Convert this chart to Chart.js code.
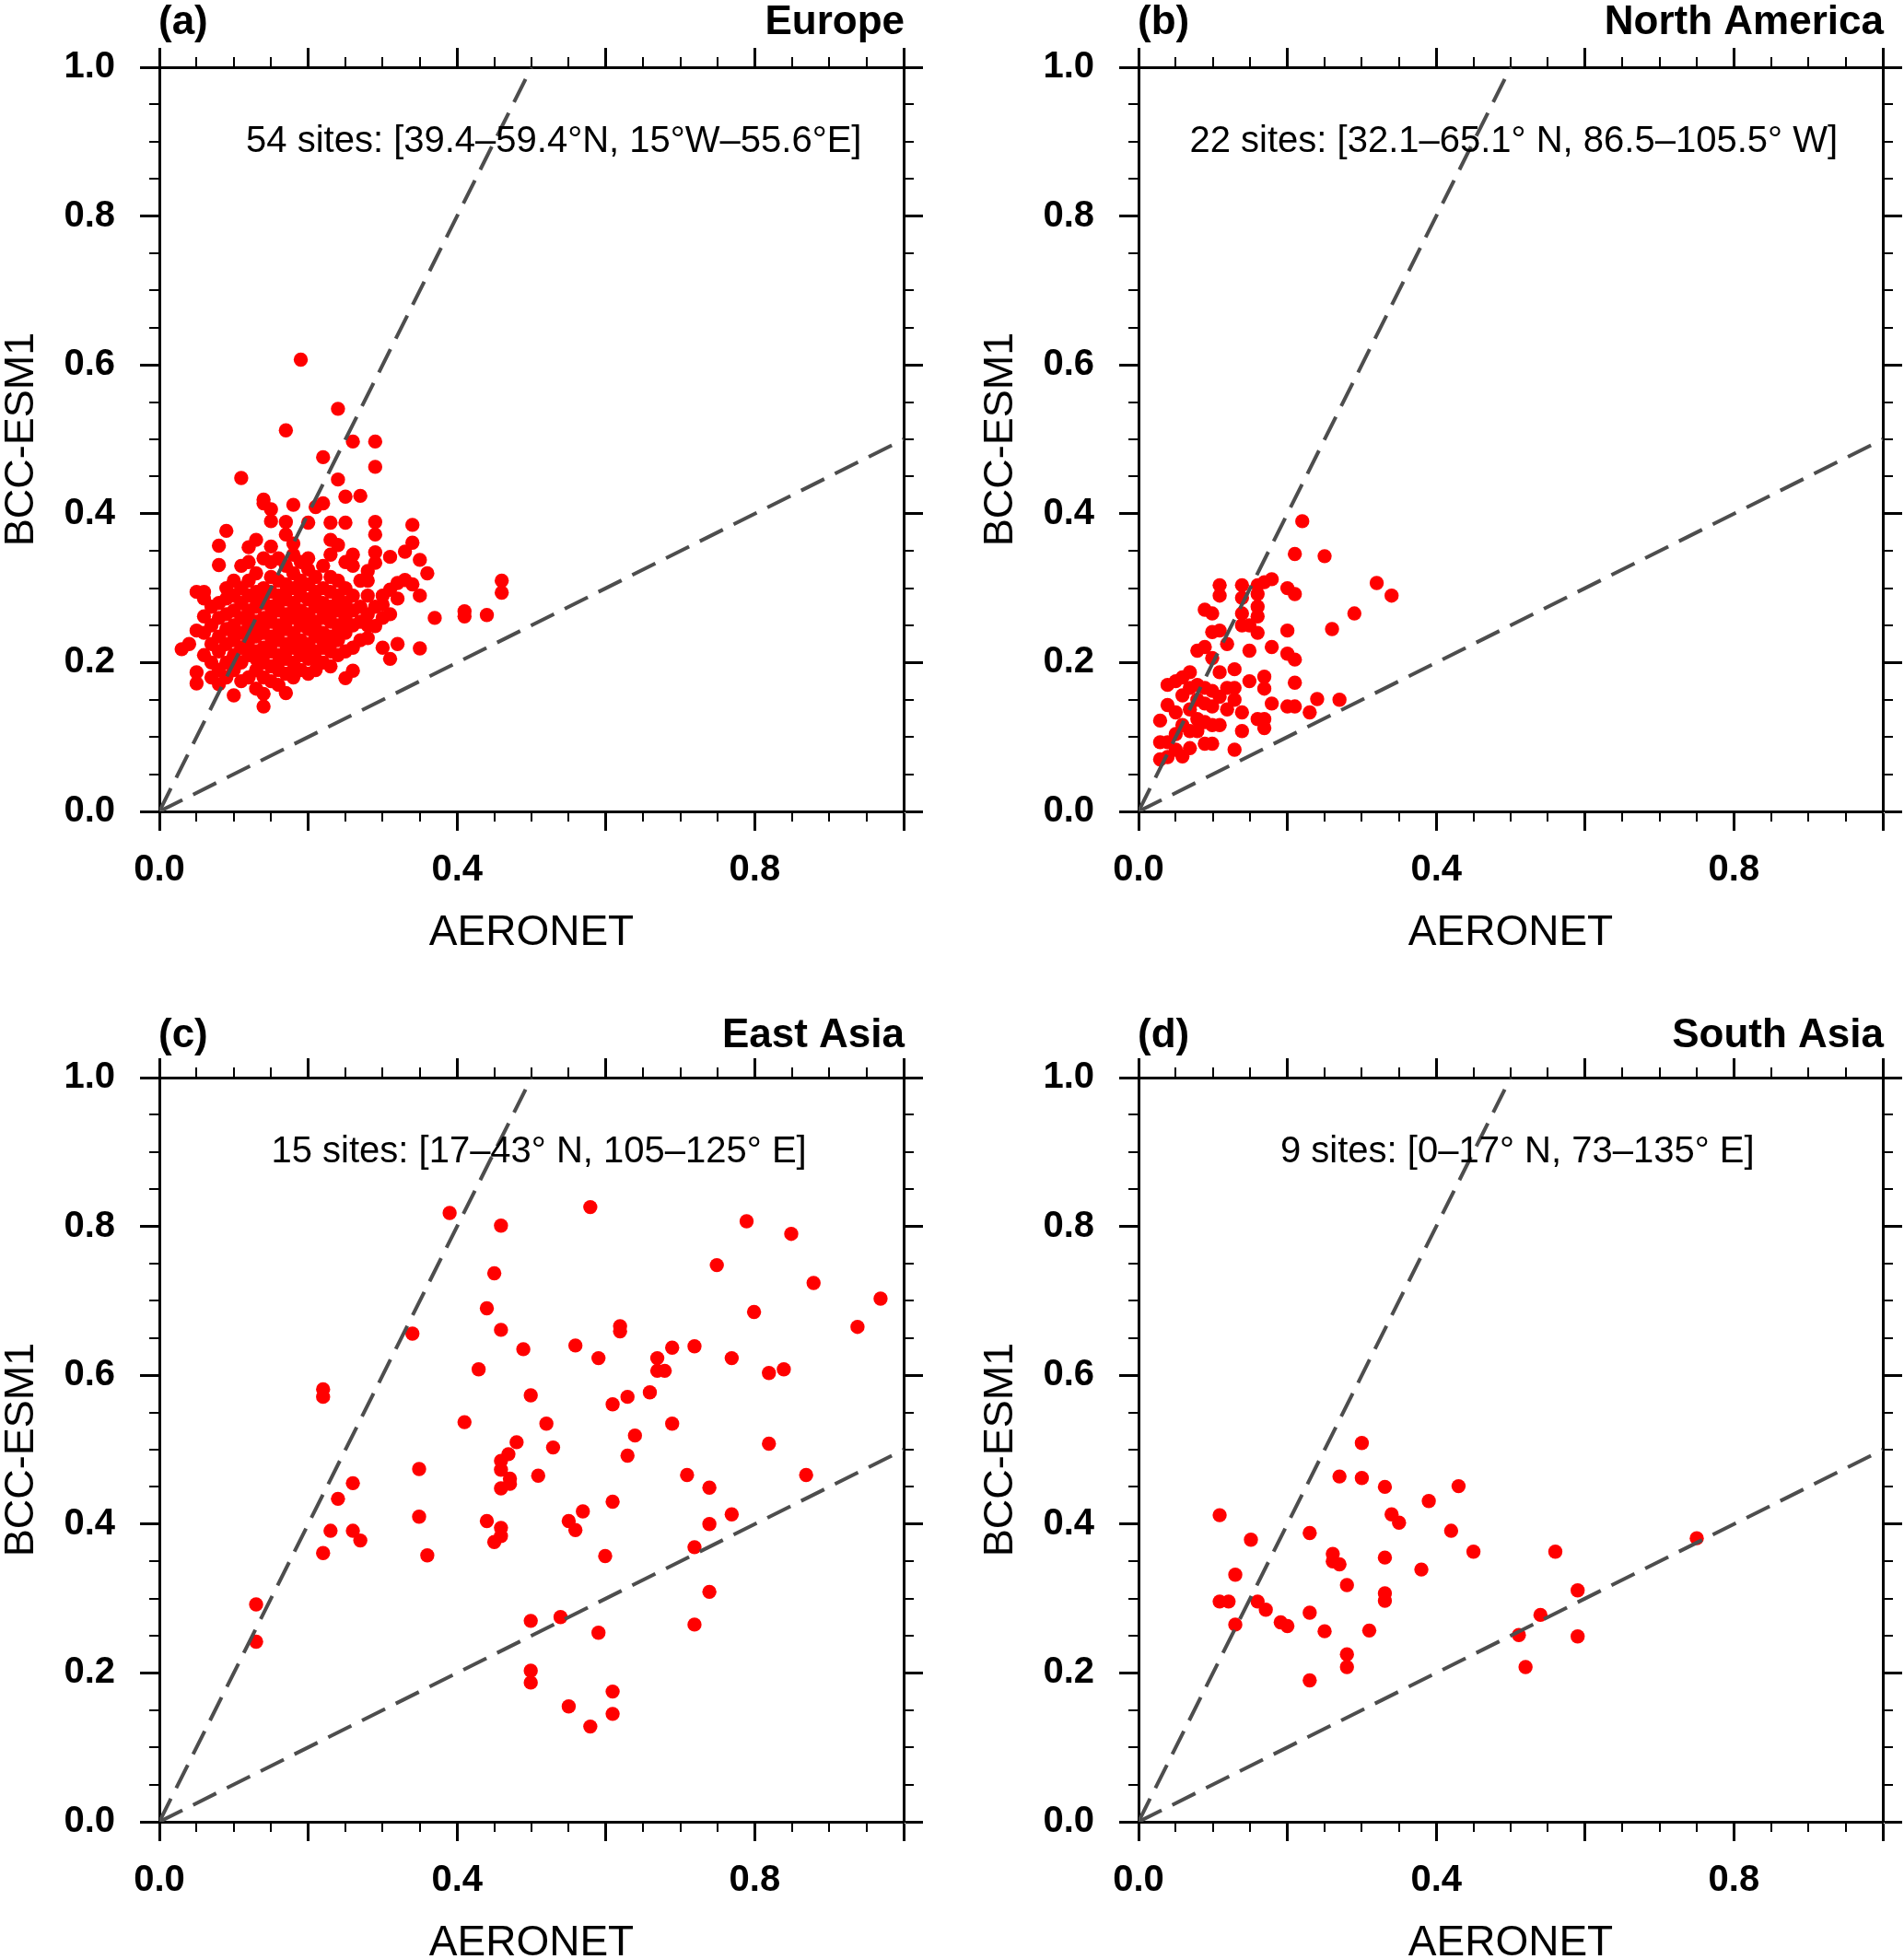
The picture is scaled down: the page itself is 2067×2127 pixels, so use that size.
<!DOCTYPE html>
<html>
<head>
<meta charset="utf-8">
<script src="https://cdn.jsdelivr.net/npm/chart.js@4.4.1/dist/chart.umd.min.js"></script>
<style>
  html, body { margin: 0; padding: 0; background: #fff; }
  body { width: 2067px; height: 2127px; position: relative; overflow: hidden; }
  canvas { position: absolute; }
</style>
</head>
<body>
<canvas id="pa" width="1007" height="1066" style="left:0px;top:0px;width:1007px;height:1066px"></canvas>
<canvas id="pb" width="1004" height="1066" style="left:1063px;top:0px;width:1004px;height:1066px"></canvas>
<canvas id="pc" width="1007" height="1031" style="left:0px;top:1096px;width:1007px;height:1031px"></canvas>
<canvas id="pd" width="1004" height="1031" style="left:1063px;top:1096px;width:1004px;height:1031px"></canvas>
<script>
// AERONET (x) vs BCC-ESM1 (y)
const europePts = [
 [0.03,0.218],[0.04,0.225],
 [0.05,0.172],[0.05,0.187],[0.05,0.243],[0.05,0.295],
 [0.06,0.210],[0.06,0.240],[0.06,0.262],[0.06,0.286],[0.06,0.295],
 [0.07,0.180],[0.07,0.200],[0.07,0.225],[0.07,0.250],[0.07,0.275],
 [0.08,0.171],[0.08,0.190],[0.08,0.215],[0.08,0.235],[0.08,0.260],[0.08,0.280],[0.08,0.331],[0.08,0.357],
 [0.09,0.180],[0.09,0.200],[0.09,0.225],[0.09,0.245],[0.09,0.265],[0.09,0.286],[0.09,0.300],[0.09,0.377],
 [0.10,0.156],[0.10,0.190],[0.10,0.210],[0.10,0.230],[0.10,0.240],[0.10,0.250],[0.10,0.270],[0.10,0.290],[0.10,0.310],
 [0.11,0.175],[0.11,0.200],[0.11,0.220],[0.11,0.240],[0.11,0.260],[0.11,0.280],[0.11,0.300],[0.11,0.330],[0.11,0.448],
 [0.12,0.180],[0.12,0.210],[0.12,0.220],[0.12,0.230],[0.12,0.250],[0.12,0.260],[0.12,0.270],[0.12,0.290],[0.12,0.310],[0.12,0.335],[0.12,0.355],
 [0.13,0.165],[0.13,0.190],[0.13,0.205],[0.13,0.215],[0.13,0.235],[0.13,0.245],[0.13,0.255],[0.13,0.275],[0.13,0.285],[0.13,0.295],[0.13,0.320],[0.13,0.365],
 [0.14,0.141],[0.14,0.158],[0.14,0.180],[0.14,0.200],[0.14,0.210],[0.14,0.220],[0.14,0.240],[0.14,0.250],[0.14,0.260],[0.14,0.280],[0.14,0.290],[0.14,0.300],[0.14,0.340],[0.14,0.414],[0.14,0.419],
 [0.15,0.175],[0.15,0.195],[0.15,0.215],[0.15,0.225],[0.15,0.235],[0.15,0.255],[0.15,0.265],[0.15,0.275],[0.15,0.295],[0.15,0.315],[0.15,0.335],[0.15,0.356],[0.15,0.390],[0.15,0.406],
 [0.16,0.170],[0.16,0.190],[0.16,0.200],[0.16,0.210],[0.16,0.230],[0.16,0.240],[0.16,0.250],[0.16,0.270],[0.16,0.280],[0.16,0.290],[0.16,0.310],[0.16,0.340],
 [0.17,0.159],[0.17,0.185],[0.17,0.205],[0.17,0.215],[0.17,0.225],[0.17,0.245],[0.17,0.255],[0.17,0.265],[0.17,0.285],[0.17,0.295],[0.17,0.305],[0.17,0.330],[0.17,0.372],[0.17,0.389],[0.17,0.512],
 [0.18,0.180],[0.18,0.190],[0.18,0.200],[0.18,0.220],[0.18,0.230],[0.18,0.240],[0.18,0.260],[0.18,0.270],[0.18,0.280],[0.18,0.300],[0.18,0.320],[0.18,0.345],[0.18,0.360],[0.18,0.412],
 [0.19,0.190],[0.19,0.210],[0.19,0.220],[0.19,0.230],[0.19,0.250],[0.19,0.260],[0.19,0.270],[0.19,0.290],[0.19,0.300],[0.19,0.310],[0.19,0.335],[0.19,0.607],
 [0.20,0.185],[0.20,0.205],[0.20,0.215],[0.20,0.225],[0.20,0.245],[0.20,0.255],[0.20,0.265],[0.20,0.285],[0.20,0.305],[0.20,0.325],[0.20,0.340],[0.20,0.388],
 [0.21,0.190],[0.21,0.205],[0.21,0.215],[0.21,0.235],[0.21,0.245],[0.21,0.255],[0.21,0.275],[0.21,0.285],[0.21,0.295],[0.21,0.315],[0.21,0.409],
 [0.22,0.200],[0.22,0.220],[0.22,0.230],[0.22,0.240],[0.22,0.260],[0.22,0.270],[0.22,0.280],[0.22,0.300],[0.22,0.330],[0.22,0.414],[0.22,0.476],
 [0.23,0.195],[0.23,0.215],[0.23,0.225],[0.23,0.235],[0.23,0.255],[0.23,0.265],[0.23,0.275],[0.23,0.295],[0.23,0.315],[0.23,0.345],[0.23,0.365],[0.23,0.388],
 [0.24,0.210],[0.24,0.230],[0.24,0.240],[0.24,0.250],[0.24,0.270],[0.24,0.280],[0.24,0.290],[0.24,0.310],[0.24,0.358],[0.24,0.446],[0.24,0.541],
 [0.25,0.179],[0.25,0.215],[0.25,0.240],[0.25,0.250],[0.25,0.260],[0.25,0.270],[0.25,0.280],[0.25,0.300],[0.25,0.335],[0.25,0.388],[0.25,0.423],
 [0.26,0.189],[0.26,0.220],[0.26,0.250],[0.26,0.270],[0.26,0.290],[0.26,0.330],[0.26,0.345],[0.26,0.497],
 [0.27,0.230],[0.27,0.255],[0.27,0.275],[0.27,0.310],[0.27,0.424],
 [0.28,0.233],[0.28,0.250],[0.28,0.265],[0.28,0.290],[0.28,0.310],[0.28,0.323],
 [0.29,0.249],[0.29,0.275],[0.29,0.334],[0.29,0.348],[0.29,0.372],[0.29,0.389],[0.29,0.463],[0.29,0.497],
 [0.30,0.220],[0.30,0.260],[0.30,0.278],[0.30,0.290],
 [0.31,0.205],[0.31,0.265],[0.31,0.298],[0.31,0.342],
 [0.32,0.225],[0.32,0.286],[0.32,0.307],
 [0.33,0.311],[0.33,0.349],
 [0.34,0.305],[0.34,0.361],[0.34,0.385],
 [0.35,0.219],[0.35,0.290],[0.35,0.338],
 [0.36,0.320],[0.37,0.260],
 [0.41,0.262],[0.41,0.269],[0.44,0.264],[0.46,0.294],[0.46,0.310]
];
const namericaPts = [
 [0.029,0.122],[0.029,0.093],[0.029,0.070],
 [0.039,0.170],[0.039,0.143],[0.039,0.093],[0.039,0.073],
 [0.050,0.175],[0.050,0.133],[0.050,0.104],[0.050,0.083],
 [0.059,0.180],[0.059,0.156],[0.059,0.116],[0.059,0.074],
 [0.069,0.187],[0.069,0.166],[0.069,0.137],[0.069,0.108],[0.069,0.085],
 [0.079,0.216],[0.079,0.170],[0.079,0.150],[0.079,0.124],[0.079,0.108],
 [0.089,0.271],[0.089,0.221],[0.089,0.166],[0.089,0.145],[0.089,0.120],[0.089,0.091],
 [0.099,0.266],[0.099,0.241],[0.099,0.206],[0.099,0.162],[0.099,0.141],[0.099,0.116],[0.099,0.091],
 [0.109,0.304],[0.109,0.290],[0.109,0.243],[0.109,0.187],[0.109,0.154],[0.109,0.116],
 [0.119,0.225],[0.119,0.166],[0.119,0.137],
 [0.129,0.191],[0.129,0.166],[0.129,0.150],[0.129,0.083],
 [0.139,0.304],[0.139,0.287],[0.139,0.266],[0.139,0.250],[0.139,0.133],[0.139,0.108],
 [0.149,0.250],[0.149,0.216],[0.149,0.175],
 [0.160,0.304],[0.160,0.292],[0.160,0.275],[0.160,0.262],[0.160,0.240],[0.160,0.124],
 [0.169,0.308],[0.169,0.181],[0.169,0.165],[0.169,0.124],[0.169,0.112],
 [0.179,0.312],[0.179,0.221],[0.179,0.145],
 [0.200,0.300],[0.200,0.243],[0.200,0.212],[0.200,0.141],
 [0.210,0.346],[0.210,0.292],[0.210,0.204],[0.210,0.173],[0.210,0.141],
 [0.220,0.390],[0.230,0.133],[0.240,0.151],[0.250,0.343],[0.260,0.245],
 [0.270,0.150],[0.290,0.266],[0.320,0.307],[0.340,0.290]
];
const eastasiaPts = [
 [0.130,0.292],[0.130,0.242],[0.220,0.581],[0.220,0.571],[0.220,0.361],[0.230,0.391],
 [0.240,0.434],[0.260,0.455],[0.260,0.391],[0.270,0.378],[0.340,0.656],[0.349,0.474],
 [0.349,0.410],[0.360,0.358],[0.390,0.818],[0.410,0.537],[0.429,0.608],[0.440,0.690],
 [0.440,0.404],[0.450,0.737],[0.450,0.376],[0.459,0.801],[0.459,0.661],[0.459,0.485],
 [0.459,0.473],[0.459,0.448],[0.459,0.395],[0.459,0.384],[0.469,0.494],[0.471,0.461],
 [0.471,0.454],[0.480,0.510],[0.489,0.635],[0.499,0.573],[0.499,0.270],[0.499,0.203],
 [0.499,0.187],[0.509,0.465],[0.520,0.535],[0.529,0.503],[0.539,0.275],[0.550,0.404],
 [0.550,0.155],[0.559,0.640],[0.559,0.392],[0.569,0.417],[0.579,0.826],[0.579,0.128],
 [0.590,0.623],[0.590,0.254],[0.599,0.357],[0.609,0.561],[0.609,0.430],[0.609,0.175],
 [0.609,0.145],[0.619,0.666],[0.619,0.659],[0.629,0.571],[0.629,0.492],[0.639,0.519],
 [0.659,0.577],[0.669,0.623],[0.669,0.606],[0.679,0.606],[0.689,0.637],[0.689,0.535],
 [0.709,0.466],[0.719,0.639],[0.719,0.369],[0.719,0.265],[0.739,0.449],[0.739,0.400],
 [0.739,0.309],[0.749,0.748],[0.769,0.623],[0.769,0.413],[0.789,0.807],[0.799,0.685],
 [0.819,0.603],[0.819,0.508],[0.839,0.608],[0.849,0.790],[0.869,0.466],[0.879,0.724],
 [0.938,0.665],[0.969,0.703]
];
const southasiaPts = [
 [0.109,0.412],[0.109,0.296],[0.121,0.296],[0.130,0.332],[0.130,0.265],[0.151,0.379],
 [0.160,0.296],[0.171,0.285],[0.191,0.268],[0.200,0.263],[0.230,0.388],[0.230,0.281],
 [0.230,0.190],[0.250,0.256],[0.261,0.360],[0.261,0.350],[0.270,0.464],[0.270,0.346],
 [0.280,0.318],[0.280,0.225],[0.280,0.208],[0.300,0.509],[0.300,0.462],[0.310,0.257],
 [0.331,0.450],[0.331,0.355],[0.331,0.307],[0.331,0.297],[0.340,0.413],[0.350,0.402],
 [0.380,0.339],[0.390,0.431],[0.420,0.391],[0.430,0.451],[0.450,0.363],[0.511,0.251],
 [0.520,0.208],[0.540,0.278],[0.560,0.363],[0.590,0.311],[0.590,0.249],[0.750,0.381]
];
// dashed reference lines y = 2x and y = 0.5x
const lineTwice = [[0, 0], [0.5, 1.0]];
const lineHalf = [[0, 0], [1.0, 0.5]];

const panelTags = ['(a)', '(b)', '(c)', '(d)'];
const regionNames = ['Europe', 'North America', 'East Asia', 'South Asia'];
const siteNotes = [
  '54 sites: [39.4\u201359.4\u00b0N, 15\u00b0W\u201355.6\u00b0E]',
  '22 sites: [32.1\u201365.1\u00b0 N, 86.5\u2013105.5\u00b0 W]',
  '15 sites: [17\u201343\u00b0 N, 105\u2013125\u00b0 E]',
  '9 sites: [0\u201317\u00b0 N, 73\u2013135\u00b0 E]'
];
const noteCenterX = [0.530, 0.504, 0.510, 0.509];

const FONT = "'Liberation Sans', Arial, Helvetica, sans-serif";
const minorStep = 0.05;
const minorLen = 11;

const toXY = arr => arr.map(p => ({ x: p[0], y: p[1] }));

const panelDeco = {
  id: 'panelDeco',
  afterDraw(chart, args, o) {
    const { ctx, chartArea: ca, scales } = chart;
    ctx.save();
    // minor ticks on all four sides
    ctx.strokeStyle = '#000';
    ctx.lineWidth = 2;
    ctx.beginPath();
    for (let i = 1; i < 20; i++) {
      if (i % 4 === 0) continue;
      const v = i * minorStep;
      const px = Math.round(scales.x.getPixelForValue(v));
      const py = Math.round(scales.y.getPixelForValue(v));
      ctx.moveTo(px, ca.bottom); ctx.lineTo(px, ca.bottom + minorLen);
      ctx.moveTo(px, ca.top); ctx.lineTo(px, ca.top - minorLen);
      ctx.moveTo(ca.left, py); ctx.lineTo(ca.left - minorLen, py);
      ctx.moveTo(ca.right, py); ctx.lineTo(ca.right + minorLen, py);
    }
    ctx.stroke();

    ctx.fillStyle = '#000';
    // panel letter and region
    ctx.font = 'bold 44px ' + FONT;
    ctx.textBaseline = 'alphabetic';
    ctx.textAlign = 'left';
    ctx.fillText(o.tag, ca.left - 1, ca.top - o.titleGap);
    ctx.textAlign = 'right';
    ctx.fillText(o.region, ca.right + 1, ca.top - o.titleGap);

    // site note
    ctx.font = '40px ' + FONT;
    ctx.textAlign = 'center';
    ctx.fillText(o.note, scales.x.getPixelForValue(o.noteX), scales.y.getPixelForValue(0.903) + 14);

    // axis titles
    ctx.font = '46px ' + FONT;
    ctx.fillText('AERONET', (ca.left + ca.right) / 2, ca.bottom + o.xTitleGap);
    ctx.translate(ca.left - 153, (ca.top + ca.bottom) / 2);
    ctx.rotate(-Math.PI / 2);
    ctx.font = '45px ' + FONT;
    ctx.fillText('BCC-ESM1', 0, 16);
    ctx.restore();
  }
};

function axis(position, size, showLabels, labelEvery) {
  return {
    type: 'linear',
    position: position,
    min: 0,
    max: 1,
    border: { display: true, color: '#000', width: 3 },
    grid: { drawOnChartArea: false, drawTicks: true, tickLength: 21, tickWidth: 3, tickColor: '#000' },
    ticks: {
      display: showLabels,
      stepSize: 0.2,
      padding: position === 'bottom' ? 19 : 27,
      color: '#000',
      font: { family: FONT, size: 40, weight: 'bold' },
      callback: v => (Math.round(v * 10) % labelEvery === 0 ? v.toFixed(1) : '')
    },
    afterFit: s => {
      if (s.isHorizontal()) s.height = size; else s.width = size;
    }
  };
}

function makePanel(id, idx, pts, topSize, bottomSize, rightSize, titleGap, xTitleGap) {
  new Chart(document.getElementById(id), {
    type: 'scatter',
    data: {
      datasets: [
        {
          type: 'line', data: toXY(lineTwice), order: 0,
          borderColor: '#4d4d4d', borderWidth: 4, borderDash: [28, 13],
          pointRadius: 0, fill: false, tension: 0
        },
        {
          type: 'line', data: toXY(lineHalf), order: 0,
          borderColor: '#4d4d4d', borderWidth: 4, borderDash: [28, 13],
          pointRadius: 0, fill: false, tension: 0
        },
        {
          data: toXY(pts), order: 1,
          backgroundColor: '#ff0000', borderColor: '#ff0000', borderWidth: 0,
          pointRadius: 7.7, pointHoverRadius: 7.7
        }
      ]
    },
    options: {
      responsive: false,
      animation: false,
      devicePixelRatio: 1,
      layout: { padding: 0, autoPadding: false },
      plugins: {
        legend: { display: false },
        tooltip: { enabled: false },
        panelDeco: {
          tag: panelTags[idx], region: regionNames[idx], note: siteNotes[idx],
          noteX: noteCenterX[idx], titleGap: titleGap, xTitleGap: xTitleGap
        }
      },
      scales: {
        x: axis('bottom', bottomSize, true, 4),
        x2: axis('top', topSize, false, 2),
        y: axis('left', 173, true, 2),
        y2: axis('right', rightSize, false, 2)
      }
    },
    plugins: [panelDeco]
  });
}

makePanel('pa', 0, europePts, 73, 185, 26, 36, 145);
makePanel('pb', 1, namericaPts, 73, 185, 23, 36, 145);
makePanel('pc', 2, eastasiaPts, 74, 149, 26, 33, 145);
makePanel('pd', 3, southasiaPts, 74, 149, 23, 33, 145);
</script>
</body>
</html>
